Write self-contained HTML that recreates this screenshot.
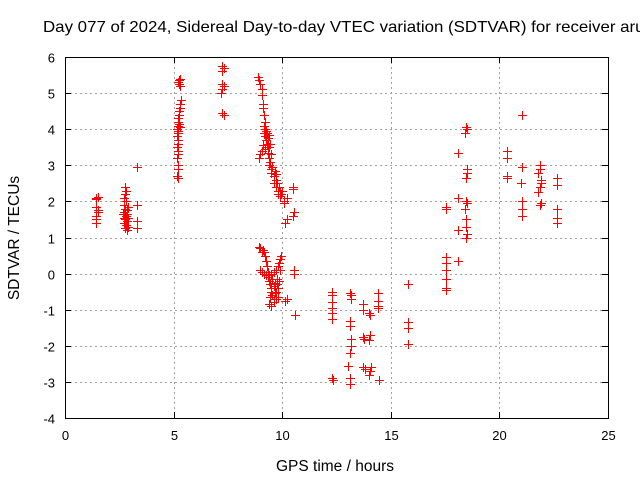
<!DOCTYPE html>
<html><head><meta charset="utf-8"><style>
body{margin:0;background:#fff}
svg{display:block;font-family:"Liberation Sans",sans-serif}
</style></head><body>
<svg id="c" width="640" height="480">
<text x="43" y="32" font-size="16" textLength="610" lengthAdjust="spacingAndGlyphs">Day 077 of 2024, Sidereal Day-to-day VTEC variation (SDTVAR) for receiver aruc</text>
<text x="335" y="471" font-size="15.5" text-anchor="middle">GPS time / hours</text>
<text transform="translate(19,238) rotate(-90)" font-size="15.5" text-anchor="middle">SDTVAR / TECUs</text>
<g id="grid"></g><g id="marks"></g>
<rect x="65.5" y="57.5" width="543" height="361" fill="none" stroke="#000" stroke-width="1"/>
</svg>
<script>
const xTicks=[0,5,10,15,20,25];
const yTicks=[-4,-3,-2,-1,0,1,2,3,4,5,6];
const seriesPoints=[
[1.45,2.1],[1.5,2.12],[1.45,2.08],[1.45,1.85],[1.5,1.7],[1.45,1.6],[1.45,1.5],[1.45,1.4],[1.5,1.75],
[2.75,2.4],[2.8,2.3],[2.78,2.2],[2.72,2.1],[2.8,2.0],[2.7,1.9],[2.75,1.8],[2.85,1.75],[2.7,1.7],[2.8,1.6],[2.75,1.5],[2.85,1.45],[2.7,1.4],[2.8,1.35],[2.9,1.3],[2.78,1.25],[2.85,1.2],[2.9,1.55],[2.65,1.65],[2.9,1.85],[2.7,1.55],[2.85,1.65],
[3.3,2.95],[3.3,1.9],[3.3,1.45],[3.3,1.25],
[5.3,5.4],[5.25,5.35],[5.2,5.3],[5.3,5.2],[5.25,5.25],[5.35,4.8],[5.3,4.7],[5.3,4.6],[5.25,4.5],[5.25,4.4],[5.2,4.3],[5.2,4.2],[5.2,4.1],[5.15,4.0],[5.2,3.95],[5.2,3.9],[5.15,3.8],[5.2,3.7],[5.2,3.6],[5.15,3.5],[5.2,3.4],[5.2,3.3],[5.15,3.2],[5.2,3.0],[5.2,2.9],[5.15,2.7],[5.2,2.65],[5.25,4.15],[5.3,4.05],
[7.25,5.75],[7.3,5.7],[7.25,5.6],[7.25,5.25],[7.3,5.2],[7.25,5.1],[7.2,5.0],[7.25,4.45],[7.3,4.4],
[8.9,5.45],[8.95,5.35],[9.0,5.25],[9.05,5.1],[9.05,4.95],[9.1,4.7],[9.1,4.6],[9.15,4.4],[9.2,4.2],[9.2,4.0],[9.15,3.9],[9.2,3.8],[9.25,3.7],[9.3,3.6],[9.1,3.55],[9.35,3.5],[9.35,3.35],[9.4,3.2],[9.4,3.0],[9.5,2.9],[9.5,2.8],[9.6,2.7],[9.7,2.6],[9.6,2.5],[9.7,2.4],[9.8,2.3],[9.8,2.2],[9.9,2.15],[9.0,3.3],[8.95,3.2],[9.3,3.9],[9.4,3.85],[9.45,3.6],[9.5,3.3],[9.7,2.75],[9.9,2.3],[10.0,2.3],
[9.15,4.1],[9.25,3.95],[9.35,3.75],[9.4,3.5],[9.45,3.1],[9.55,2.95],[9.65,2.85],[9.75,2.5],[9.85,2.4],[9.95,2.2],[9.05,3.4],[9.2,3.45],
[10.1,2.0],[10.1,1.95],[10.2,1.5],[10.15,1.4],[10.5,2.4],[10.5,2.35],[10.55,1.7],[10.5,1.6],[10.2,2.1],
[8.95,0.75],[9.0,0.7],[9.1,0.65],[9.15,0.6],[9.2,0.5],[9.25,0.35],[9.3,0.2],[9.0,0.1],[9.05,0.05],[9.15,0.0],[9.25,-0.05],[9.35,-0.1],[9.4,-0.2],[9.45,-0.3],[9.5,-0.4],[9.5,-0.5],[9.55,-0.6],[9.6,-0.7],[9.6,-0.8],[9.7,-0.7],[9.8,-0.65],[9.5,-0.9],[9.4,-0.85],[9.5,0.0],[9.6,0.05],[9.7,0.1],[9.8,0.2],[9.85,0.3],[9.9,0.4],[9.95,0.5],[9.75,-0.3],[9.8,-0.4],[9.7,-0.5],[9.65,-0.25],
[9.05,0.6],[9.35,0.05],[9.4,-0.05],[9.55,-0.15],[9.6,-0.35],[9.65,-0.55],[9.75,-0.15],[9.85,-0.2],[9.9,0.1],[9.45,-0.65],
[10.15,-0.75],[10.2,-0.7],[10.6,-1.15],[10.55,0.1],[10.55,0.0],
[12.3,-0.5],[12.3,-0.6],[12.3,-0.8],[12.3,-0.95],[12.3,-1.1],[12.3,-1.25],[12.3,-2.9],[12.35,-2.95],
[13.1,-0.55],[13.15,-0.7],[13.1,-1.3],[13.1,-1.45],[13.15,-1.8],[13.15,-2.0],[13.1,-2.2],[13.05,-2.55],[13.1,-2.9],[13.1,-3.05],[13.15,-0.6],
[13.7,-0.85],[13.7,-1.0],[13.7,-1.75],[13.75,-1.8],[13.7,-2.6],[13.8,-2.65],
[14.05,-1.15],[14.0,-1.1],[14.05,-1.7],[14.0,-1.85],[14.1,-2.6],[14.0,-2.8],[14.05,-2.7],
[14.4,-0.55],[14.4,-0.75],[14.4,-0.95],[14.45,-2.95],[14.4,-0.9],
[15.8,-0.3],[15.8,-1.35],[15.8,-1.5],[15.8,-1.95],
[17.55,1.85],[17.55,1.8],[17.55,0.45],[17.55,0.3],[17.55,0.1],[17.55,-0.15],[17.55,-0.4],[17.55,-0.45],
[18.1,3.35],[18.1,2.1],[18.1,1.2],[18.1,0.35],
[18.45,4.05],[18.4,3.9],[18.5,2.9],[18.45,2.65],[18.5,2.8],[18.45,2.0],[18.5,1.95],[18.45,1.5],[18.45,1.0],[18.5,1.1],[18.4,1.8],[18.45,1.3],[18.5,4.0],
[20.35,3.4],[20.35,3.2],[20.35,2.7],[20.35,2.65],
[21.05,4.4],[21.05,2.95],[21.0,2.5],[21.05,2.0],[21.05,1.8],[21.05,1.6],
[21.85,3.0],[21.8,2.8],[21.9,2.6],[21.85,2.4],[21.8,2.25],[21.9,1.95],[21.85,1.9],[21.85,2.9],[21.9,2.5],
[22.65,2.65],[22.65,2.45],[22.65,1.8],[22.65,1.55],[22.65,1.4]];
const X0=65,X1=608,Y0=418,Y1=57,xmin=0,xmax=25,ymin=-4,ymax=6;
const sx=v=>X0+(v-xmin)/(xmax-xmin)*(X1-X0);
const sy=v=>Y0-(v-ymin)/(ymax-ymin)*(Y0-Y1);
const NS='http://www.w3.org/2000/svg';
const grid=document.getElementById('grid'),marks=document.getElementById('marks');
function mk(tag,at,parent){const e=document.createElementNS(NS,tag);for(const k in at)e.setAttribute(k,at[k]);parent.appendChild(e);return e;}
xTicks.forEach(t=>{const x=Math.round(sx(t))+0.5;
 if(t>xmin&&t<xmax){const l=mk('line',{x1:x,x2:x,y1:Y1,y2:Y0,stroke:'#a0a0a0','stroke-dasharray':'2,3'},grid);
 
 }
 mk('line',{x1:x,x2:x,y1:Y0,y2:Y0-6,stroke:'#000'},grid);
 mk('line',{x1:x,x2:x,y1:Y1,y2:Y1+6,stroke:'#000'},grid);
 const tx=mk('text',{x:x,y:Y0+22,'font-size':13,'text-anchor':'middle'},grid);tx.textContent=t;
 
 });
yTicks.forEach(t=>{const y=Math.round(sy(t))+0.5;
 if(t>ymin&&t<ymax){const l=mk('line',{x1:X0,x2:X1,y1:y,y2:y,stroke:'#a0a0a0','stroke-dasharray':'2,3'},grid);
 
 }
 mk('line',{x1:X0,x2:X0+6,y1:y,y2:y,stroke:'#000'},grid);
 mk('line',{x1:X1,x2:X1-6,y1:y,y2:y,stroke:'#000'},grid);
 const tx=mk('text',{x:X0-10,y:y+5,'font-size':13,'text-anchor':'end'},grid);tx.textContent=t;
 
 });
seriesPoints.forEach(pt=>{const x=Math.round(sx(pt[0])),y=Math.round(sy(pt[1]));
 const p=mk('path',{d:`M${x-4},${y}h9v1h-9zM${x},${y-4}h1v9h-1z`,fill:'#ff0000',stroke:'none'},marks);
 
 });
</script>
</body></html>
